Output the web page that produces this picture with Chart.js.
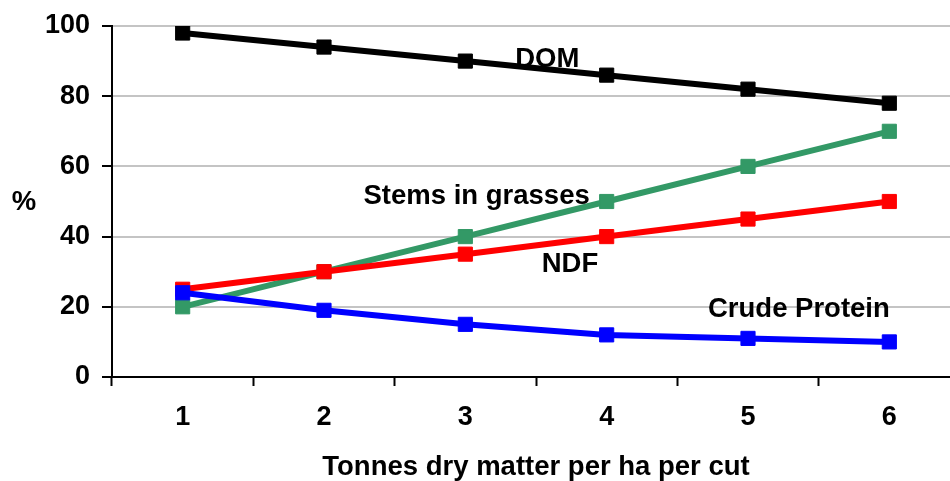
<!DOCTYPE html>
<html>
<head>
<meta charset="utf-8">
<script src="https://cdn.jsdelivr.net/npm/chart.js@4/dist/chart.umd.min.js"></script>
<style>
  html, body { margin: 0; padding: 0; background: #fff; overflow: hidden; }
  /* the plot runs a little past the right edge of the window, as in the original */
  #wrap { width: 960px; height: 481px; }
</style>
</head>
<body>
<div id="wrap"><canvas id="chart" width="960" height="481"></canvas></div>
<script>
// data
var tonnes = ['1', '2', '3', '4', '5', '6'];
var dom = [98, 94, 90, 86, 82, 78];
var stems = [20, 30, 40, 50, 60, 70];
var ndf = [25, 30, 35, 40, 45, 50];
var crudeProtein = [24, 19, 15, 12, 11, 10];

var yTicks = [0, 20, 40, 60, 80, 100];

// text labels next to the lines: [text, category position, value at baseline]
var lineLabels = [
  ['DOM', 2.58, 88.2],
  ['Stems in grasses', 2.08, 49.2],
  ['NDF', 2.74, 29.9],
  ['Crude Protein', 4.36, 17.1]
];

var fontFamily = '"Liberation Sans", Arial, sans-serif';
var boldFont = 'bold 27.5px ' + fontFamily;

function serie(label, values, color, order) {
  return {
    label: label,
    data: values,
    borderColor: color,
    backgroundColor: color,
    borderWidth: 6,
    pointStyle: 'rect',
    pointRadius: 10,
    pointBorderWidth: 1,
    pointBackgroundColor: color,
    pointBorderColor: color,
    tension: 0,
    order: order
  };
}

var labelsPlugin = {
  id: 'lineLabels',
  afterDatasetsDraw: function (chart) {
    var ctx = chart.ctx;
    var x = chart.scales.x;
    var y = chart.scales.y;
    ctx.save();
    ctx.font = boldFont;
    ctx.fillStyle = '#000';
    ctx.textAlign = 'center';
    ctx.textBaseline = 'alphabetic';
    lineLabels.forEach(function (l) {
      ctx.fillText(l[0], x.getPixelForValue(l[1]), y.getPixelForValue(l[2]));
    });
    // "%" axis title, not rotated
    ctx.fillText('%', 24, y.getPixelForValue(47.5));
    ctx.restore();
  }
};

var ctx = document.getElementById('chart');
var myChart = new Chart(ctx, {
  type: 'line',
  data: {
    labels: tonnes,
    datasets: [
      serie('DOM', dom, '#000000', 3),
      serie('Stems in grasses', stems, '#339966', 2),
      serie('NDF', ndf, '#FF0000', 1),
      serie('Crude Protein', crudeProtein, '#0000FF', 0)
    ]
  },
  options: {
    responsive: false,
    animation: false,
    layout: { autoPadding: false, padding: { top: 26, right: 0, bottom: 0, left: 0 } },
    plugins: {
      legend: { display: false },
      tooltip: { enabled: false }
    },
    scales: {
      x: {
        type: 'category',
        offset: true,
        afterFit: function (scale) {
          scale.height = 104;
          scale.paddingLeft = 0;
          scale.paddingRight = 0;
        },
        grid: {
          display: true,
          offset: true,
          drawOnChartArea: false,
          drawTicks: true,
          tickLength: 9,
          tickColor: '#000',
          tickWidth: 2
        },
        border: { display: true, color: '#000', width: 2 },
        ticks: {
          color: '#000',
          font: { family: fontFamily, size: 27, weight: 'bold' },
          padding: 15,
          maxRotation: 0
        },
        title: {
          display: true,
          text: 'Tonnes dry matter per ha per cut',
          color: '#000',
          font: { family: fontFamily, size: 27.5, weight: 'bold', lineHeight: 1 },
          padding: { top: 0, bottom: 0 }
        }
      },
      y: {
        min: 0,
        max: 100,
        afterFit: function (scale) {
          scale.width = 112;
          scale.paddingTop = 0;
          scale.paddingBottom = 0;
        },
        afterBuildTicks: function (scale) {
          scale.ticks = yTicks.map(function (v) { return { value: v }; });
        },
        grid: {
          color: '#c4c4c4',
          lineWidth: 2,
          tickLength: 10,
          tickColor: '#000',
          tickWidth: 2
        },
        border: { display: true, color: '#000', width: 2 },
        ticks: {
          color: '#000',
          font: { family: fontFamily, size: 27, weight: 'bold' },
          padding: 12
        }
      }
    }
  },
  plugins: [labelsPlugin]
});
</script>
</body>
</html>
